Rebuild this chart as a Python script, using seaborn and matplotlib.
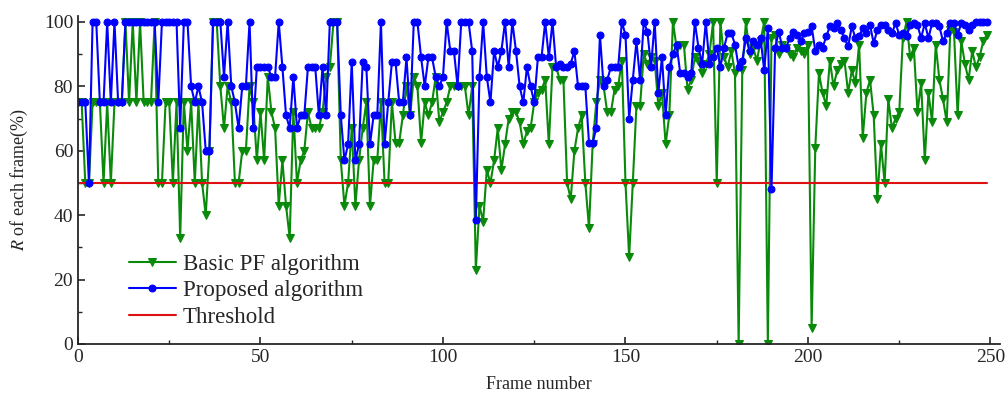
import matplotlib
matplotlib.use('Agg')
import matplotlib.pyplot as plt
from matplotlib.ticker import MultipleLocator
import seaborn as sns
import numpy as np

# R of each frame (%) for frames 0..249
basic_pf = [
    75, 75, 50, 50, 75, 75, 75, 50, 75, 50,
    75, 75, 75, 100, 75, 100, 75, 100, 75, 75,
    75, 100, 50, 50, 75, 75, 50, 75, 33, 75,
    60, 75, 50, 75, 50, 40, 60, 100, 100, 80,
    67, 80, 75, 50, 50, 60, 60, 80, 75, 57,
    72, 57, 83, 72, 67, 43, 57, 43, 33, 72,
    50, 57, 60, 72, 67, 67, 67, 72, 83, 86,
    100, 100, 57, 43, 50, 67, 43, 57, 67, 75,
    43, 57, 57, 75, 50, 50, 75, 62.5, 62.5, 71,
    80, 71, 83, 80, 62.5, 75, 71, 75, 83, 69,
    72, 75, 80, 80, 80, 80, 80, 71, 80, 23,
    43, 38, 54, 50, 57, 67, 54, 62, 70, 72,
    72, 69, 62, 66, 67, 75, 78, 79, 82, 62,
    86, 86, 82, 82, 50, 45, 60, 67, 71, 50,
    36, 62, 75, 82, 80, 72, 72, 79, 80, 88,
    50, 27, 50, 74, 74, 90, 87, 89, 88, 74,
    78, 62, 71, 100, 92, 93, 93, 79, 82, 89,
    88, 84, 87, 90, 100, 50, 100, 89, 86, 91,
    84, 0, 85, 100, 90, 92, 88, 94, 100, 0,
    95, 96, 90, 93, 92, 90, 89, 92, 91, 90,
    93, 5, 61, 84, 78, 74, 88, 80, 85, 87,
    88, 78, 85, 81, 93, 64, 78, 82, 71, 45,
    62, 50, 76, 67, 70, 72, 95, 100, 89, 92,
    72, 81, 57, 78, 69, 93, 82, 76, 69, 97.5,
    97, 71, 94, 87, 82, 91, 86, 89, 94, 96,
]

proposed = [
    75, 75, 75, 50, 100, 100, 75, 75, 100, 75,
    100, 75, 75, 100, 100, 100, 100, 100, 100, 100,
    100, 100, 75, 100, 100, 100, 100, 100, 67, 100,
    100, 80, 75, 80, 75, 60, 60, 100, 100, 100,
    83, 100, 80, 75, 67, 80, 80, 100, 67, 86,
    86, 86, 86, 83, 83, 100, 86, 71, 67, 83,
    67, 71, 71, 86, 86, 86, 71, 86, 71, 100,
    100, 100, 71, 57, 62, 87.5, 57, 62, 87.5, 86,
    62, 71, 71, 100, 62, 75, 87.5, 87.5, 75, 75,
    89, 71, 100, 100, 89, 80, 89, 89, 83, 80,
    83, 100, 91, 91, 80, 100, 100, 100, 91, 38.5,
    83, 100, 83, 75, 91, 86, 91, 100, 86, 100,
    91, 80, 75, 86, 80, 75, 89, 89, 100, 89,
    100, 86, 87, 86, 86, 87, 91, 80, 80, 80,
    62.5, 62.5, 67, 96, 80, 82, 86, 86, 86, 100,
    96, 70, 82, 94, 82, 100, 97, 86, 100, 78,
    89, 71, 86, 90, 93, 84, 84, 83, 84, 100,
    92, 87, 100, 87, 89, 92, 86, 92, 96.5, 96.5,
    93, 86, 88, 95, 91, 94, 93, 95, 85, 98,
    48, 92, 97, 92, 92, 95, 97, 96, 94, 96.5,
    97, 98.6, 91, 93, 92, 95.5, 98.6, 98, 99.6, 97.5,
    95, 92.4, 98.6, 95, 95.5, 98, 96.5, 99, 93.4, 97.5,
    99, 99, 97.5, 96.5, 99.6, 96, 96.5, 95.5, 99, 99.6,
    99, 95, 99.6, 95, 99.6, 99.6, 98.6, 94, 96.5, 99.6,
    99.6, 96, 99.6, 99, 97.5, 99, 100, 100, 100, 100,
]

threshold = 50
frames = np.arange(len(basic_pf))

sns.set_style('ticks')
plt.rcParams['font.family'] = ['Liberation Serif', 'DejaVu Serif']
plt.rcParams['mathtext.fontset'] = 'stix'
plt.rcParams['xtick.direction'] = 'in'
plt.rcParams['ytick.direction'] = 'in'

fig = plt.figure(figsize=(10.05, 3.98), dpi=100)
ax = fig.add_axes([0.0776, 0.1357, 0.9174, 0.8253])

green = '#0a8a0a'
blue = '#0000ff'
red = '#dd1111'

sns.lineplot(x=frames, y=basic_pf, ax=ax, color=green, marker='v',
             markersize=6, markeredgecolor=green, linewidth=1.5,
             label='Basic PF algorithm')
sns.lineplot(x=frames, y=[threshold] * len(frames), ax=ax, color=red,
             linewidth=1.5, label='Threshold')
sns.lineplot(x=frames, y=proposed, ax=ax, color=blue, marker='o',
             markersize=5, markeredgecolor=blue, linewidth=1.5,
             label='Proposed algorithm')

ax.set_xlim(0, 252.6)
ax.set_ylim(0, 102)
ax.xaxis.set_major_locator(MultipleLocator(50))
ax.xaxis.set_minor_locator(MultipleLocator(25))
ax.yaxis.set_major_locator(MultipleLocator(20))
ax.yaxis.set_minor_locator(MultipleLocator(10))
ax.tick_params(which='major', length=5, width=1.2, labelsize=14)
ax.tick_params(which='minor', length=3, width=1.0)
for s in ['left', 'bottom']:
    ax.spines[s].set_linewidth(1.3)
sns.despine(ax=ax)

ax.set_xlabel('Frame number', fontsize=13, labelpad=7)
ax.set_ylabel('$R$ of each frame(%)', fontsize=13, labelpad=10)

handles, labels = ax.get_legend_handles_labels()
order = [0, 2, 1]
ax.legend([handles[i] for i in order], [labels[i] for i in order],
          loc='upper left', bbox_to_anchor=(0.055, 0.275), frameon=False,
          fontsize=16.5, handlelength=2.05, handletextpad=0.3,
          labelspacing=0.24, borderaxespad=0, borderpad=0)

fig.savefig('out.png', dpi=100)
